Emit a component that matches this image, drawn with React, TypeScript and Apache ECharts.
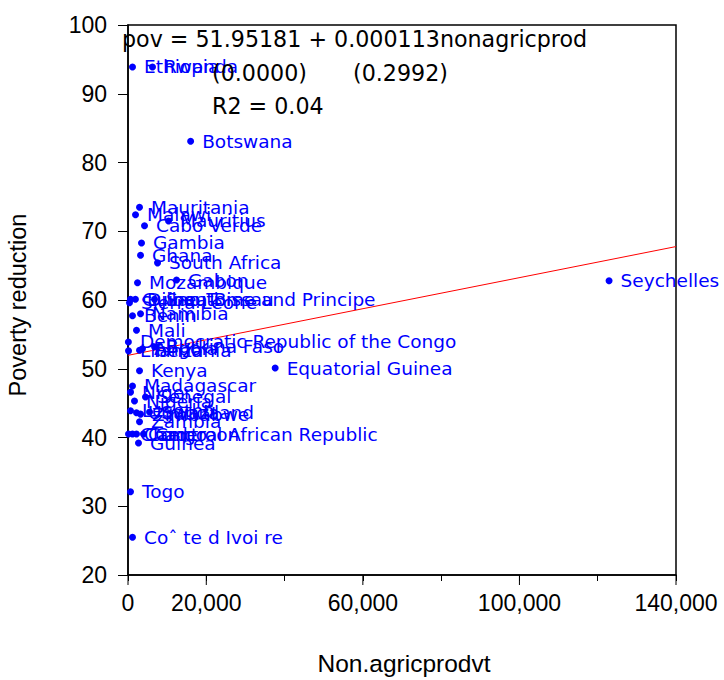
import React, { useEffect, useRef } from "react";
import * as echarts from "echarts";

// Country labels, non-agricultural productivity and poverty reduction
const countries = [
  "Ethiopia", "Rwanda", "Botswana", "Mauritania", "Malawi", "Mauritius",
  "Cabo Verde", "Gambia", "Ghana", "South Africa", "Gabon", "Mozambique",
  "Seychelles", "Sierra Leone", "Guinea-Bissau", "Djibouti", "Sao Tome and Principe",
  "Benin", "Namibia", "Mali", "Democratic Republic of the Congo", "Liberia",
  "Tanzania", "Angola", "Burkina Faso", "Equatorial Guinea", "Kenya",
  "Madagascar", "Niger", "Senegal", "Nigeria", "Lesotho", "Uganda",
  "Swaziland", "Zimbabwe", "Zambia", "Chad", "Cameroon", "Congo",
  "Central African Republic", "Guinea", "Togo", "Coˆ te d Ivoi re",
];
const nonAgricProd = [
  1150, 6260, 16000, 2940, 1920, 10360,
  4220, 3450, 3200, 7540, 12400, 2430,
  122900, 380, 640, 1900, 6780,
  1150, 3200, 2170, 100, 130,
  2940, 3700, 6780, 37600, 2940,
  1150, 640, 4470, 1660, 640, 2170,
  5500, 3200, 2940, 130, 1150, 2170,
  3960, 2680, 640, 1150,
];
const povertyReduction = [
  93.9, 93.9, 83.1, 73.5, 72.4, 71.5,
  70.8, 68.3, 66.5, 65.4, 62.9, 62.5,
  62.8, 59.6, 60.1, 60.1, 60.1,
  57.7, 58.0, 55.6, 53.9, 52.6,
  52.7, 52.9, 53.2, 50.1, 49.7,
  47.5, 46.6, 45.9, 45.3, 43.9, 43.6,
  43.7, 43.4, 42.3, 40.5, 40.5, 40.5,
  40.5, 39.2, 32.1, 25.5,
];

// Fitted line: pov = 51.95181 + 0.000113 nonagricprod
const intercept = 51.95181;
const slope = 0.000113;
const lineX = [0, 140000];

const xMin = 0;
const xMax = 140000;
const yMin = 20;
const yMax = 100;
const labeledXTicks = [0, 20000, 60000, 100000, 140000];

const withCommas = (v: number) => String(v).replace(/\B(?=(\d{3})+(?!\d))/g, ",");

export default function App() {
  const ref = useRef<HTMLDivElement>(null);

  useEffect(() => {
    if (!ref.current) return;
    const chart = echarts.init(ref.current, null, { renderer: "svg" });
    const sans = "Liberation Sans, Arial, sans-serif";
    const wide = "DejaVu Sans, sans-serif";
    const eqFont = `22.2px ${wide}`;

    chart.setOption({
      animation: false,
      backgroundColor: "#fff",
      grid: {
        left: 128,
        top: 25,
        right: 48,
        bottom: 105,
        show: true,
        borderColor: "#000",
        borderWidth: 1.5,
        backgroundColor: "transparent",
      },
      xAxis: {
        type: "value",
        min: xMin,
        max: xMax,
        interval: 20000,
        axisLine: { show: true, onZero: false, lineStyle: { color: "#000", width: 1.5 } },
        axisTick: { show: true, length: 6, lineStyle: { color: "#000", width: 1 } },
        splitLine: { show: false },
        axisLabel: {
          color: "#000",
          fontFamily: sans,
          fontSize: 23,
          margin: 16,
          formatter: (v: number) => (labeledXTicks.includes(v) ? withCommas(v) : ""),
        },
      },
      yAxis: {
        type: "value",
        min: yMin,
        max: yMax,
        interval: 10,
        axisLine: { show: true, onZero: false, lineStyle: { color: "#000", width: 1.5 } },
        axisTick: { show: true, length: 10, lineStyle: { color: "#000", width: 1 } },
        splitLine: { show: false },
        axisLabel: { color: "#000", fontFamily: sans, fontSize: 23, margin: 21 },
      },
      series: [
        {
          type: "line",
          data: lineX.map((x) => [x, intercept + slope * x]),
          showSymbol: false,
          symbol: "none",
          lineStyle: { color: "#ff0000", width: 1 },
          z: 3,
        },
        {
          type: "scatter",
          data: countries.map((c, i) => ({ name: c, value: [nonAgricProd[i], povertyReduction[i]] })),
          symbolSize: 7,
          itemStyle: { color: "#0000ff", opacity: 1 },
          label: {
            show: true,
            position: "right",
            distance: 8,
            formatter: "{b}",
            color: "#0000ff",
            opacity: 1,
            fontFamily: wide,
            fontSize: 18.5,
          },
          emphasis: { disabled: true },
          z: 4,
        },
        {
          // longer tick marks under the labelled x values
          type: "custom",
          data: labeledXTicks.map((v) => [v, yMin]),
          clip: false,
          silent: true,
          renderItem: (params: any, api: any) => {
            const p = api.coord([api.value(0), api.value(1)]);
            return {
              type: "line",
              shape: { x1: p[0], y1: p[1], x2: p[0], y2: p[1] + 10 },
              style: { stroke: "#000", lineWidth: 1 },
            };
          },
        },
      ],
      graphic: [
        {
          type: "text",
          left: 122,
          top: 28,
          style: {
            text: "pov = 51.95181 + 0.000113nonagricprod",
            fill: "#000",
            font: eqFont,
          },
          z: 10,
        },
        {
          type: "text",
          left: 212,
          top: 62,
          style: { text: "(0.0000)", fill: "#000", font: eqFont },
          z: 10,
        },
        {
          type: "text",
          left: 353,
          top: 62,
          style: { text: "(0.2992)", fill: "#000", font: eqFont },
          z: 10,
        },
        {
          type: "text",
          left: 212,
          top: 95,
          style: { text: "R2 = 0.04", fill: "#000", font: eqFont },
          z: 10,
        },
        {
          type: "text",
          x: 18,
          y: 305,
          rotation: Math.PI / 2,
          style: {
            text: "Poverty reduction",
            fill: "#000",
            font: `23.5px ${sans}`,
            align: "center",
            verticalAlign: "middle",
          },
        },
        {
          type: "text",
          x: 404,
          y: 663,
          style: {
            text: "Non.agricprodvt",
            fill: "#000",
            font: `24.5px ${sans}`,
            align: "center",
            verticalAlign: "middle",
          },
        },
      ],
    });

    return () => chart.dispose();
  }, []);

  return (
    <div
      ref={ref}
      style={{ position: "fixed", left: 0, top: 0, width: 724, height: 680, background: "#fff" }}
    />
  );
}
